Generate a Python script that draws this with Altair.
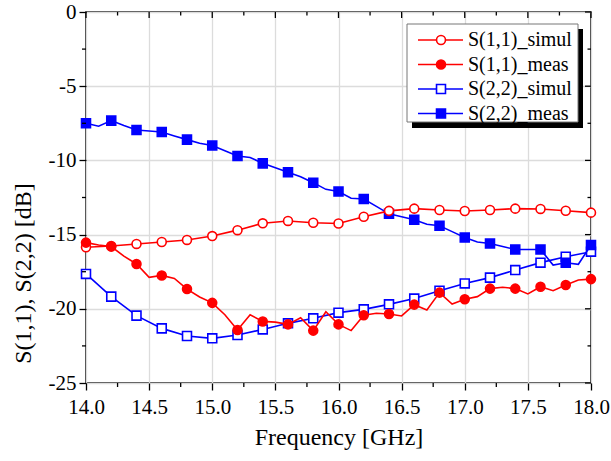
import altair as alt
import pandas as pd

FONT = "Liberation Serif, Times New Roman, DejaVu Serif, serif"
RED = "#ff0000"
BLUE = "#0000ff"

# ---------------- data ----------------
freq_coarse = [14.0, 14.2, 14.4, 14.6, 14.8, 15.0, 15.2, 15.4, 15.6, 15.8, 16.0,
               16.2, 16.4, 16.6, 16.8, 17.0, 17.2, 17.4, 17.6, 17.8, 18.0]
freq_fine = [14.0, 14.1, 14.2, 14.3, 14.4, 14.5, 14.6, 14.7, 14.8, 14.9, 15.0,
             15.1, 15.2, 15.3, 15.4, 15.5, 15.6, 15.7, 15.8, 15.9, 16.0,
             16.1, 16.2, 16.3, 16.4, 16.5, 16.6, 16.7, 16.8, 16.9, 17.0,
             17.1, 17.2, 17.3, 17.4, 17.5, 17.6, 17.7, 17.8, 17.9, 18.0]

s11_simul = [-15.85, -15.77, -15.63, -15.5, -15.36, -15.1, -14.7, -14.24, -14.08, -14.2, -14.25,
             -13.8, -13.4, -13.25, -13.34, -13.41, -13.34, -13.25, -13.27, -13.39, -13.52]

s11_meas = [-15.54, -15.7, -15.81, -16.45, -16.98, -17.88, -17.75, -17.95, -18.67, -19.2, -19.6,
            -20.4, -21.43, -20.4, -20.85, -20.9, -21.05, -20.6, -21.47, -20.2, -21.05,
            -21.47, -20.44, -20.3, -20.35, -20.48, -19.72, -20.08, -18.91, -19.68, -19.36,
            -19.18, -18.64, -18.55, -18.64, -19.0, -18.51, -18.78, -18.4, -18.06, -18.0]

s22_simul = [-17.65, -19.18, -20.46, -21.32, -21.83, -21.99, -21.77, -21.39, -20.98, -20.64, -20.26,
             -20.04, -19.7, -19.31, -18.78, -18.29, -17.9, -17.39, -16.89, -16.49, -16.15]

s22_meas = [-7.5, -7.7, -7.32, -7.65, -7.95, -8.02, -8.09, -8.35, -8.6, -8.85, -9.0,
            -9.35, -9.7, -9.8, -10.2, -10.5, -10.8, -11.1, -11.5, -11.95, -12.1,
            -12.55, -12.6, -13.1, -13.6, -13.8, -14.0, -14.3, -14.4, -14.8, -15.2,
            -15.5, -15.6, -15.8, -16.0, -16.0, -16.0, -17.05, -16.9, -17.0, -15.7]

legend_labels = ["S(1,1)_simul", "S(1,1)_meas", "S(2,2)_simul", "S(2,2)_meas"]

x_major = [14.0, 14.5, 15.0, 15.5, 16.0, 16.5, 17.0, 17.5, 18.0]
x_minor = [14.25, 14.75, 15.25, 15.75, 16.25, 16.75, 17.25, 17.75]
y_major = [-25, -20, -15, -10, -5, 0]
y_minor = [-22.5, -17.5, -12.5, -7.5, -2.5]

# ---------------- frames ----------------
def frame(f, v):
    return pd.DataFrame({"freq": f, "val": v})

df_s11_sim = frame(freq_coarse, s11_simul)
df_s11_meas = frame(freq_fine, s11_meas)
df_s22_sim = frame(freq_coarse, s22_simul)
df_s22_meas = frame(freq_fine, s22_meas)
df_s11_meas_mk = df_s11_meas.iloc[::2].reset_index(drop=True)
df_s22_meas_mk = df_s22_meas.iloc[::2].reset_index(drop=True)

W, H = 505, 371

x_axis = alt.Axis(
    values=x_major,
    format=".1f",
    tickSize=7, tickColor="black", tickWidth=1.3, domain=False,
    labelFont=FONT, labelFontSize=21, labelColor="black", labelPadding=6,
    labelFlush=False, labelOverlap=False,
    title="Frequency [GHz]", titleFont=FONT, titleFontSize=24, titleFontWeight="normal",
    titleColor="black", titlePadding=8,
    grid=True, gridColor="#dcdcdc", gridWidth=1.3,
)
y_axis = alt.Axis(
    values=y_major,
    labelExpr="'' + datum.value",
    tickSize=7, tickColor="black", tickWidth=1.3, domain=False,
    labelFont=FONT, labelFontSize=21, labelColor="black", labelPadding=3,
    labelFlush=False, labelOverlap=False,
    title="S(1,1), S(2,2) [dB]", titleFont=FONT, titleFontSize=24, titleFontWeight="normal",
    titleColor="black", titleX=-63, titleY=261, titleAngle=270,
    titleAlign="center", titleBaseline="middle",
    grid=True, gridColor="#dcdcdc", gridWidth=1.3,
)

xs = alt.Scale(domain=[14, 18], nice=False, zero=False)
ys = alt.Scale(domain=[-25, 0], nice=False, zero=False)
X = alt.X("freq:Q", scale=xs, axis=x_axis)
Y = alt.Y("val:Q", scale=ys, axis=y_axis)


def line(df, color):
    return alt.Chart(df).mark_line(color=color, strokeWidth=1.6).encode(x=X, y=Y)


def pts(df, color, shape, filled):
    return alt.Chart(df).mark_point(
        shape=shape, size=80, strokeWidth=1.6, opacity=1,
        fill=color if filled else "white", fillOpacity=1, stroke=color,
    ).encode(x=X, y=Y)


# tick marks that the axes cannot draw (minor ticks, inward mirror ticks on top/right)
def xticks(vals, y0, y1):
    return alt.Chart(pd.DataFrame({"freq": vals})).mark_rule(color="black", strokeWidth=1.3).encode(
        x=X, y=alt.value(y0), y2=alt.value(y1))


def yticks(vals, x0, x1):
    return alt.Chart(pd.DataFrame({"val": vals})).mark_rule(color="black", strokeWidth=1.3).encode(
        y=Y, x=alt.value(x0), x2=alt.value(x1))


# ---------------- legend (drawn in pixel space of the plot) ----------------
one = alt.Data(values=[{"a": 1}])
shadow = alt.Chart(one).mark_rect(fill="black").encode(
    x=alt.value(326), x2=alt.value(497), y=alt.value(17), y2=alt.value(116))
box = alt.Chart(one).mark_rect(fill="white", stroke="#777777", strokeWidth=1).encode(
    x=alt.value(321), x2=alt.value(492), y=alt.value(12), y2=alt.value(110))

leg_colors = [RED, RED, BLUE, BLUE]
leg_fills = ["white", RED, "white", BLUE]
leg_shapes = ["circle", "circle", "square", "square"]
leg_rows = [28, 52.5, 77, 101.5]

legend_layers = [shadow, box]
for lab, col, fil, shp, ry in zip(legend_labels, leg_colors, leg_fills, leg_shapes, leg_rows):
    legend_layers.append(alt.Chart(one).mark_rule(color=col, strokeWidth=1.6).encode(
        x=alt.value(332), x2=alt.value(377), y=alt.value(ry)))
    legend_layers.append(alt.Chart(one).mark_point(
        shape=shp, size=80, strokeWidth=1.6, opacity=1, fill=fil, fillOpacity=1, stroke=col
    ).encode(x=alt.value(355), y=alt.value(ry)))
    legend_layers.append(alt.Chart(one).mark_text(
        align="left", baseline="middle", font=FONT, fontSize=20, color="black", text=lab
    ).encode(x=alt.value(382), y=alt.value(ry)))

chart = alt.layer(
    line(df_s22_sim, BLUE), pts(df_s22_sim, BLUE, "square", False),
    line(df_s22_meas, BLUE), pts(df_s22_meas_mk, BLUE, "square", True),
    line(df_s11_sim, RED), pts(df_s11_sim, RED, "circle", False),
    line(df_s11_meas, RED), pts(df_s11_meas_mk, RED, "circle", True),
    xticks(x_minor, H, H + 4), xticks(x_major, 0, 6), xticks(x_minor, 0, 3.5),
    yticks(y_minor, 0, -4), yticks(y_major, W, W - 6), yticks(y_minor, W, W - 3.5),
    *legend_layers,
).properties(
    width=W, height=H,
    padding={"left": 86, "top": 12, "right": 20, "bottom": 78},
    autosize=alt.AutoSizeParams(type="none"),
    background="white",
).configure_view(stroke="black", strokeWidth=1.5)

chart.save("out.html", embed_options={"renderer": "svg", "actions": False})
